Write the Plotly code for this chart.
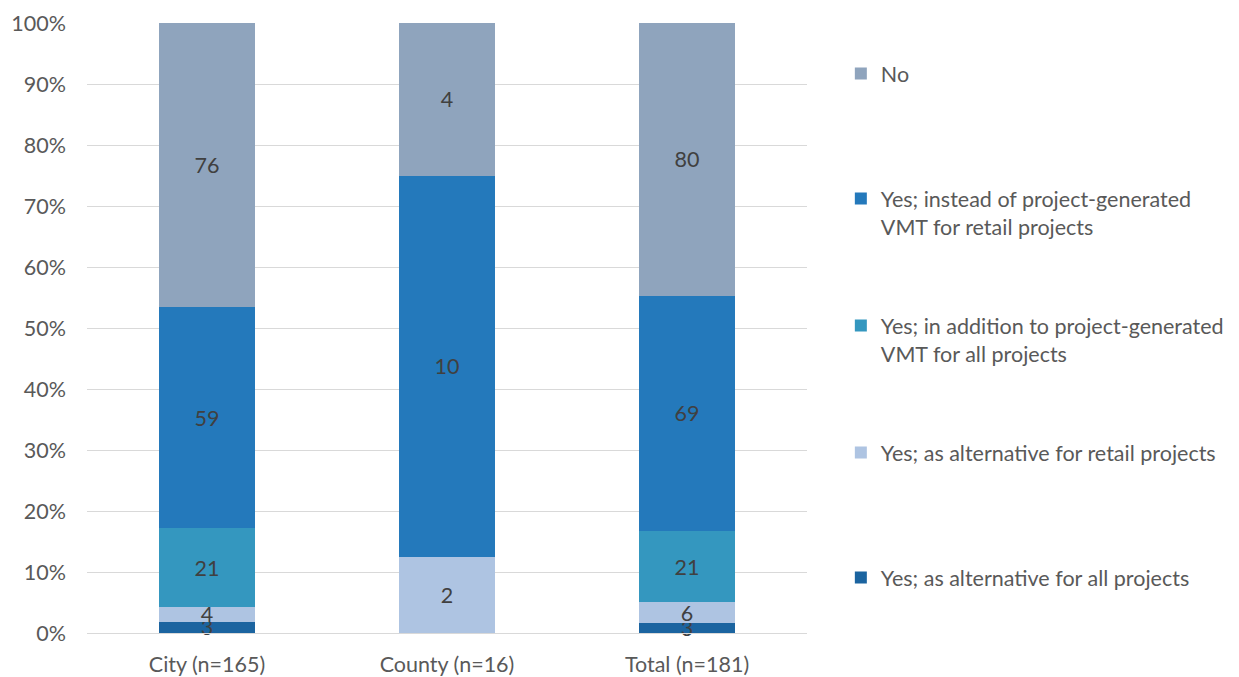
import plotly.graph_objects as go

categories = ["City (n=165)", "County (n=16)", "Total (n=181)"]
series_names = [
    "Yes; as alternative for all projects",
    "Yes; as alternative for retail projects",
    "Yes; in addition to project-generated<br>VMT for all projects",
    "Yes; instead of project-generated<br>VMT for retail projects",
    "No",
]
alt_all = [3, 0, 3]
alt_retail = [4, 2, 6]
in_addition = [21, 0, 21]
instead_retail = [59, 10, 69]
no = [76, 4, 80]
colors = ["#1B64A0", "#AEC4E2", "#3497BF", "#2479BB", "#8FA4BD"]
legend_ids = ["legend5", "legend4", "legend3", "legend2", "legend"]
# legend vertical centres (pixel rows in the 677 px page)
legend_rows = [571, 446, 333, 206, 67]

FONT = "Lato, sans-serif"
FS = 21.5
T, B = 23, 633

fig = go.Figure()
for name, vals, col, lid in zip(series_names,
        [alt_all, alt_retail, in_addition, instead_retail, no], colors, legend_ids):
    fig.add_trace(go.Bar(
        x=categories, y=vals, name=name, marker_color=col,
        marker_line_width=0,
        text=[str(v) if v else "" for v in vals],
        textposition="inside", insidetextanchor="middle", textangle=0,
        textfont=dict(color="#404040", size=FS, family=FONT),
        width=0.396, legend=lid, showlegend=True, cliponaxis=False,
        hoverinfo="skip",
    ))

layout_legends = {}
for lid, row, name in zip(legend_ids, legend_rows, series_names):
    nlines = name.count("<br>") + 1
    top_row = row - 14 * nlines
    layout_legends[lid] = dict(
        x=1.047, y=(B - top_row) / (B - T), xanchor="left", yanchor="top",
        font=dict(size=FS, color="#595959", family=FONT),
        itemwidth=30, valign="top", bgcolor="rgba(0,0,0,0)",
        borderwidth=0, tracegroupgap=0, visible=True,
    )

fig.update_layout(
    barmode="stack", barnorm="percent",
    width=1239, height=677,
    margin=dict(l=87, r=432, t=T, b=677 - B, autoexpand=False),
    plot_bgcolor="white", paper_bgcolor="white",
    font=dict(family=FONT, size=FS, color="#595959"),
    uniformtext=dict(mode=False),
    barcornerradius=0,
    showlegend=True,
    **layout_legends,
    yaxis=dict(range=[0, 100], dtick=10, ticksuffix="%", showgrid=True,
               gridcolor="#D9D9D9", gridwidth=1, zeroline=False,
               tickfont=dict(size=FS, color="#595959", family=FONT), ticks="",
               ticklabelstandoff=20, automargin=False),
    xaxis=dict(showline=True, linecolor="#D9D9D9", linewidth=1,
               tickfont=dict(size=FS, color="#595959", family=FONT), ticks="",
               ticklabelstandoff=12, automargin=False),
)
fig.update_traces(constraintext="none")
fig.write_html("out.html")
